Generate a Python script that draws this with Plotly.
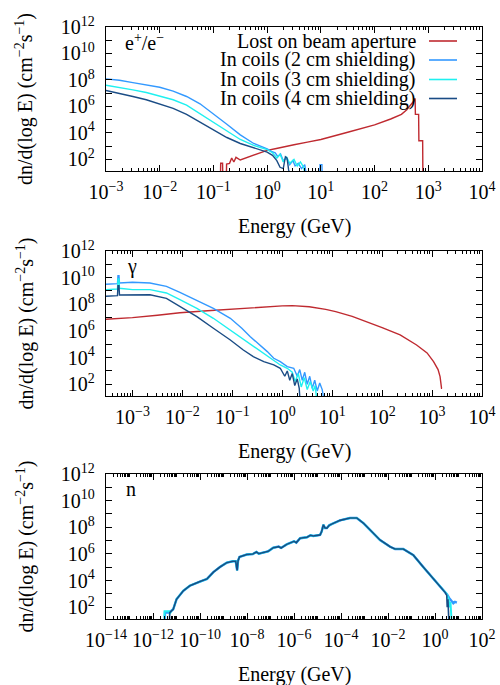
import numpy as np
import plotly.graph_objects as go

# ---------------- data (log10 E [GeV], log10 dn/dlogE) ----------------
# Panel 1: e+/e-
e_red_E = [-0.87,-0.865,-0.83,-0.825,-0.76,-0.755,-0.7,-0.66,-0.62,-0.58,-0.5,-0.4,-0.3,-0.2,-0.1,0.0,0.15,0.3,0.5,0.75,1.0,1.5,2.0,2.3,2.5,2.6,2.68,2.72,2.755,2.76,2.82,2.825,2.895,2.9]
e_red_V = [0.5,1.7,1.7,0.5,0.5,1.65,1.7,2.1,1.8,2.15,1.95,2.1,2.25,2.35,2.55,2.68,2.8,2.95,3.1,3.3,3.5,4.05,4.6,5.05,5.4,5.75,6.1,6.35,6.6,5.4,5.4,3.4,3.4,0.5]
e_c2_E = [-3.0,-2.75,-2.5,-2.25,-2.0,-1.75,-1.5,-1.25,-1.0,-0.75,-0.5,-0.25,0.0,0.08,0.15,0.2,0.25,0.3,0.36,0.42,0.48,0.52,0.58,0.64,0.7,0.74,0.98,0.985,1.02,1.025]
e_c2_V = [8.08,7.98,7.8,7.65,7.45,7.15,6.75,6.2,5.45,4.65,3.85,3.2,2.8,2.6,2.5,2.2,2.4,1.9,2.1,1.6,1.9,1.5,1.7,1.3,1.6,0.5,0.5,1.6,1.6,0.5]
e_c3_E = [-3.0,-2.75,-2.5,-2.25,-2.0,-1.75,-1.5,-1.25,-1.0,-0.75,-0.5,-0.25,0.0,0.1,0.18,0.24,0.3,0.36,0.42,0.5,0.56,0.62,0.68,0.72]
e_c3_V = [7.6,7.45,7.25,7.05,6.8,6.5,6.1,5.45,4.75,4.1,3.5,3.05,2.73,2.5,2.1,2.4,1.8,2.2,1.7,2.0,1.5,1.8,1.4,0.5]
e_c4_E = [-3.0,-2.75,-2.5,-2.25,-2.0,-1.75,-1.5,-1.25,-1.0,-0.75,-0.5,-0.25,0.0,0.1,0.18,0.24,0.3,0.34,0.37,0.4,0.44]
e_c4_V = [7.2,7.0,6.75,6.5,6.2,5.85,5.4,4.8,4.2,3.65,3.2,2.9,2.55,2.3,1.9,1.4,1.3,2.2,2.1,1.2,0.5]

# Panel 2: gamma
g_red_E = [-3.53,-3.0,-2.5,-2.05,-1.5,-1.0,-0.5,0.0,0.2,0.54,0.87,1.07,1.4,1.69,2.0,2.36,2.69,2.9,3.03,3.12,3.16,3.19,3.2]
g_red_V = [6.88,7.0,7.18,7.37,7.52,7.65,7.77,7.88,7.9,7.82,7.62,7.45,7.1,6.7,6.25,5.7,4.95,4.35,3.7,3.1,2.58,1.7,1.7]
g_c2_E = [-3.53,-3.3,-3.29,-3.27,-3.26,-3.0,-2.65,-2.32,-2.05,-1.71,-1.38,-1.04,-0.81,-0.64,-0.44,-0.3,-0.17,-0.04,0.1,0.23,0.3,0.35,0.4,0.45,0.5,0.55,0.6,0.65,0.7,0.75,0.8,0.85]
g_c2_V = [9.5,9.55,10.15,10.15,9.6,9.65,9.6,9.35,8.9,8.32,7.7,6.95,6.2,5.57,4.95,4.45,3.95,3.7,3.32,3.2,2.6,3.1,2.3,2.9,2.0,2.6,1.7,2.3,1.5,2.1,1.6,0.5]
g_c3_E = [-3.53,-3.3,-3.29,-3.27,-3.26,-3.0,-2.65,-2.32,-2.05,-1.71,-1.38,-1.04,-0.71,-0.37,-0.17,-0.04,0.1,0.2,0.26,0.32,0.38,0.44,0.5,0.56,0.62,0.66,0.7]
g_c3_V = [9.1,9.15,9.9,9.9,9.2,9.1,9.1,8.85,8.35,7.7,6.95,6.07,5.2,4.32,3.82,3.45,3.2,2.9,2.2,2.8,1.8,2.5,1.6,2.2,1.5,1.9,0.5]
g_c4_E = [-3.53,-3.3,-3.29,-3.27,-3.26,-3.0,-2.65,-2.32,-2.05,-1.71,-1.38,-1.04,-0.78,-0.58,-0.37,-0.17,-0.04,0.05,0.1,0.15,0.2,0.25,0.3,0.34,0.36]
g_c4_V = [8.6,8.65,9.4,9.4,8.7,8.72,8.72,8.45,7.85,7.07,6.2,5.32,4.57,4.07,3.7,3.45,3.2,2.6,3.0,2.3,2.8,1.9,2.4,1.7,0.5]

# Panel 3: neutrons (shared body, per-series start and tail)
n_body_E = [-11.14,-11.0,-10.71,-10.43,-10.2,-10.0,-9.7,-9.43,-9.15,-8.86,-8.6,-8.48,-8.42,-8.38,-8.32,-8.01,-7.75,-7.6,-7.5,-7.3,-7.1,-6.88,-6.65,-6.55,-6.31,-6.0,-5.9,-5.74,-5.45,-5.3,-5.18,-4.89,-4.82,-4.75,-4.68,-4.6,-4.5,-4.4,-4.04,-3.62,-3.33,-3.05,-2.77,-2.34,-1.91,-1.7,-1.35,-0.92,-0.5,-0.07,0.21,0.43]
n_body_V = [1.85,2.6,3.24,3.62,3.8,3.93,4.13,4.64,5.02,5.35,5.45,5.45,4.77,5.5,5.78,5.96,6.0,6.15,6.02,6.12,6.2,6.47,6.55,6.45,6.72,6.95,6.85,7.18,7.25,7.4,7.35,7.43,7.7,8.19,7.95,7.94,8.15,8.24,8.52,8.7,8.7,8.32,7.81,7.05,6.54,6.37,6.37,5.91,5.02,4.13,3.62,3.12]
n_c2_startE = [-11.5,-11.49,-11.32,-11.2]
n_c2_startV = [0.5,1.6,1.6,1.75]
n_c2_tailE = [0.52,0.6,0.7,0.78,0.85,0.9,0.93]
n_c2_tailV = [2.95,2.7,2.45,2.3,2.4,2.35,2.35]
n_c3_startE = [-11.52,-11.51,-11.3,-11.29,-11.2]
n_c3_startV = [0.5,1.7,1.7,1.5,1.75]
n_c3_tailE = [0.5,0.58,0.62,0.66,0.7,0.72]
n_c3_tailV = [3.0,2.6,2.0,2.4,1.7,0.5]
n_c4_startE = [-11.3,-11.29,-11.2]
n_c4_startV = [0.5,1.6,1.75]
n_c4_tailE = [0.5,0.52,0.55,0.57,0.6]
n_c4_tailV = [2.9,2.0,2.6,1.95,0.5]

series_names = ["Lost on beam aperture", "In coils (2 cm shielding)",
                "In coils (3 cm shielding)", "In coils (4 cm shielding)"]
colors = ["#bf2a30", "#3399ff", "#1ff0f0", "#1a4c85"]

FONT = "Liberation Serif"
FS = 20

def p10(a):
    return 10.0 ** np.asarray(a, dtype=float)

fig = go.Figure()

def add(E, V, color, ax, w=1.4):
    fig.add_trace(go.Scatter(x=p10(E), y=p10(V), mode="lines",
                             line=dict(color=color, width=w),
                             xaxis="x" + ax, yaxis="y" + ax,
                             showlegend=False, hoverinfo="skip"))

# panel 1
add(e_red_E, e_red_V, colors[0], "")
add(e_c2_E, e_c2_V, colors[1], "")
add(e_c3_E, e_c3_V, colors[2], "")
add(e_c4_E, e_c4_V, colors[3], "")
# panel 2
add(g_red_E, g_red_V, colors[0], "2")
add(g_c2_E, g_c2_V, colors[1], "2")
add(g_c3_E, g_c3_V, colors[2], "2")
add(g_c4_E, g_c4_V, colors[3], "2")
# panel 3
add(n_c2_startE + n_body_E + n_c2_tailE, n_c2_startV + n_body_V + n_c2_tailV, colors[1], "3", 2.4)
add(n_c3_startE + n_body_E + n_c3_tailE, n_c3_startV + n_body_V + n_c3_tailV, colors[2], "3", 1.9)
add(n_c4_startE + n_body_E + n_c4_tailE, n_c4_startV + n_body_V + n_c4_tailV, colors[3], "3", 1.6)

def sup(n):
    s = str(n).replace("-", "\u2212")
    return "10<sup>" + s + "</sup>"

def xaxis(lo, hi, rng, label_every, anchor):
    ks = [k for k in range(lo, hi + 1) if (k - lo) % label_every == 0]
    vals = [10.0 ** k for k in ks]
    txt = [sup(k) for k in ks]
    minor = [m * 10.0 ** k for k in range(lo - 1, hi + 1) for m in range(2, 10)]
    minor += [10.0 ** k for k in range(lo, hi + 1) if (k - lo) % label_every != 0]
    return dict(type="log", range=rng, tickmode="array", tickvals=vals, ticktext=txt,
                ticks="inside", ticklen=6, tickwidth=1, tickcolor="black",
                showline=True, linecolor="black", linewidth=1.2, mirror="ticks",
                showgrid=False, zeroline=False, anchor=anchor, automargin=False,
                ticklabeloverflow="allow", ticklabelstandoff=3,
                minor=dict(tickmode="array", tickvals=sorted(minor), ticks="inside",
                           ticklen=3, tickcolor="black", showgrid=False),
                tickfont=dict(family=FONT, size=FS, color="black"))

def yaxis(domain, anchor):
    ks = list(range(2, 13, 2))
    vals = [10.0 ** k for k in ks]
    txt = [sup(k) for k in ks]
    minor = [10.0 ** k for k in range(1, 13, 2)]
    return dict(type="log", range=[1.12, 12], domain=domain, anchor=anchor,
                tickmode="array", tickvals=vals, ticktext=txt,
                ticks="inside", ticklen=6, tickwidth=1, tickcolor="black",
                showline=True, linecolor="black", linewidth=1.2, mirror="ticks",
                showgrid=False, zeroline=False, ticklabelstandoff=6, automargin=False,
                ticklabeloverflow="allow",
                minor=dict(tickmode="array", tickvals=minor, ticks="inside",
                           ticklen=6, tickcolor="black", showgrid=False),
                tickfont=dict(family=FONT, size=FS, color="black"))

W, H = 500, 685
L, R, T, B = 106, 500 - 482, 27, 685 - 619
PLOT_H = H - T - B
PLOT_W = W - L - R

def py(page_y):
    return (H - B - page_y) / PLOT_H

def pxx(page_x):
    return (page_x - L) / PLOT_W

def dom(top_px, bot_px):
    return [py(bot_px), py(top_px)]

d1, d2, d3 = dom(27, 171), dom(251, 396), dom(474, 619)

layout = dict(
    width=W, height=H, paper_bgcolor="white", plot_bgcolor="white",
    margin=dict(l=L, r=R, t=T, b=B, autoexpand=False),
    font=dict(family=FONT, size=FS, color="black"),
    xaxis=xaxis(-3, 4, [-3, 4], 1, "y"),
    yaxis=yaxis(d1, "x"),
    xaxis2=xaxis(-3, 4, [-3.53, 4], 1, "y2"),
    yaxis2=yaxis(d2, "x2"),
    xaxis3=xaxis(-14, 2, [-14, 2], 2, "y3"),
    yaxis3=yaxis(d3, "x3"),
    showlegend=False,
)
fig.update_layout(**layout)

ann = []
ytitle = "dn/d(log E) (cm<sup>\u22122</sup>s<sup>\u22121</sup>)"
for (top, bot) in [(27, 171), (251, 396), (474, 619)]:
    ann.append(dict(text="Energy (GeV)", x=0.5, y=py(bot + 55), xref="paper", yref="paper",
                    xanchor="center", yanchor="middle", showarrow=False,
                    font=dict(family=FONT, size=FS)))
    ann.append(dict(text=ytitle, x=pxx(25), y=py((top + bot) / 2), xref="paper", yref="paper",
                    xanchor="center", yanchor="middle", textangle=-90, showarrow=False,
                    font=dict(family=FONT, size=FS)))

ann.append(dict(text="e<sup>+</sup>/e<sup>\u2212</sup>", x=pxx(123), y=py(42), xref="paper", yref="paper",
                xanchor="left", yanchor="middle", showarrow=False, font=dict(family=FONT, size=FS)))
ann.append(dict(text="\u03b3", x=pxx(125), y=py(266), xref="paper", yref="paper",
                xanchor="left", yanchor="middle", showarrow=False, font=dict(family=FONT, size=FS)))
ann.append(dict(text="n", x=pxx(124), y=py(489), xref="paper", yref="paper",
                xanchor="left", yanchor="middle", showarrow=False, font=dict(family=FONT, size=FS)))

shapes = []
legend_rows = [41, 60, 79.5, 98.5]
for name, col, row in zip(series_names, colors, legend_rows):
    ann.append(dict(text=name, x=pxx(418), y=py(row), xref="paper", yref="paper",
                    xanchor="right", yanchor="middle", showarrow=False,
                    font=dict(family=FONT, size=FS)))
    shapes.append(dict(type="line", xref="paper", yref="paper",
                       x0=pxx(429), x1=pxx(457), y0=py(row), y1=py(row),
                       line=dict(color=col, width=1.6)))

fig.update_layout(annotations=ann, shapes=shapes)
fig.write_html("out.html",
               config={"displayModeBar": False, "staticPlot": True},
               post_script="document.body.style.margin='0';"
                           "document.documentElement.style.overflow='hidden';"
                           "document.body.style.overflow='hidden';")
